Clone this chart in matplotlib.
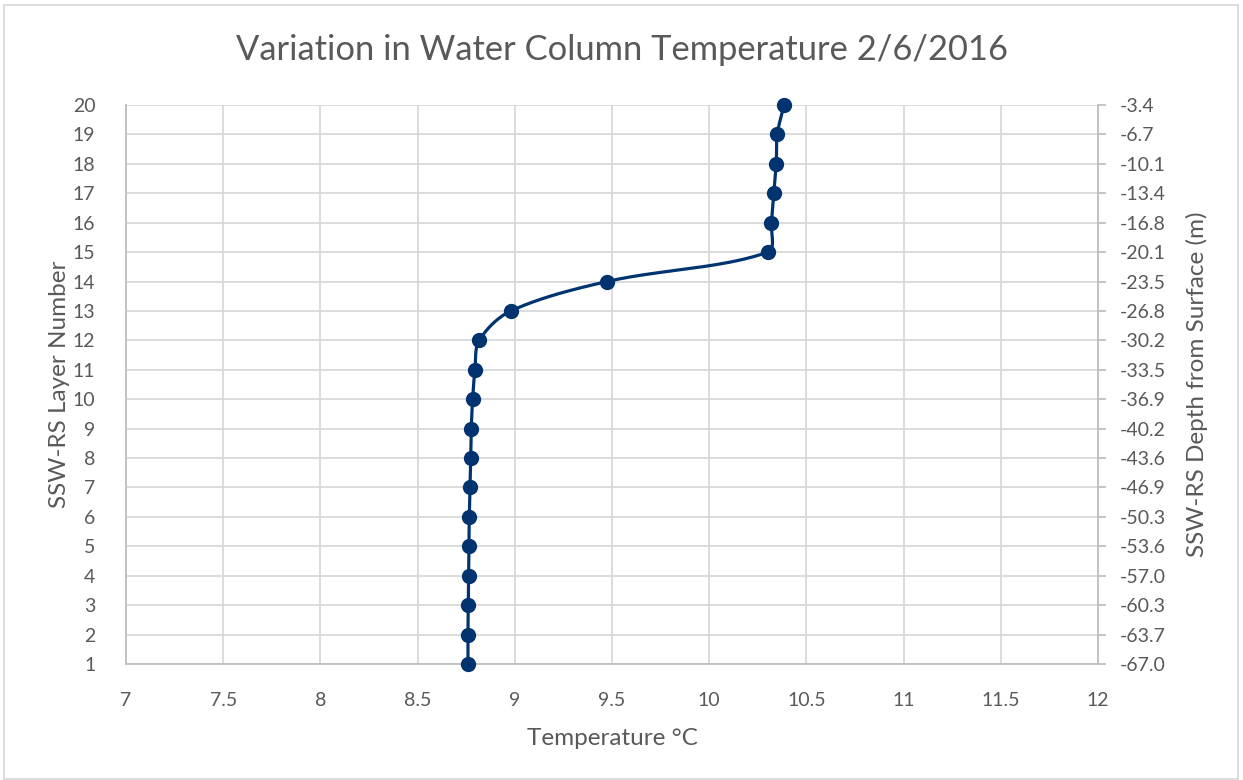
import numpy as np
import matplotlib
matplotlib.use("Agg")
import matplotlib.pyplot as plt
from matplotlib.patches import Rectangle

plt.rcParams['font.family'] = ['Lato', 'DejaVu Sans']

# Layer numbers (1 = bottom layer, 20 = surface layer)
layers = list(range(1, 21))
# Temperature in each layer, degrees C
temperature = [8.759, 8.759, 8.761, 8.763, 8.764, 8.766, 8.770, 8.773, 8.776, 8.783,
               8.795, 8.817, 8.980, 9.474, 10.302, 10.320, 10.333, 10.345, 10.350, 10.385]
# Depth of each layer from the surface, metres
depth_labels = ['-67.0', '-63.7', '-60.3', '-57.0', '-53.6', '-50.3', '-46.9', '-43.6',
                '-40.2', '-36.9', '-33.5', '-30.2', '-26.8', '-23.5', '-20.1', '-16.8',
                '-13.4', '-10.1', '-6.7', '-3.4']
x_ticks = [7, 7.5, 8, 8.5, 9, 9.5, 10, 10.5, 11, 11.5, 12]
x_tick_labels = ['7', '7.5', '8', '8.5', '9', '9.5', '10', '10.5', '11', '11.5', '12']

TEXT = '#595959'
GRID = '#D9D9D9'
AXIS = '#BFBFBF'
LINE = '#00336F'


def smooth_path(xs, ys, steps=40):
    """Cubic Bezier smoothing through every point; tangents are split in
    proportion to the neighbouring segment lengths to limit overshoot."""
    P = np.column_stack([np.asarray(xs, float), np.asarray(ys, float)])
    n = len(P)
    out = []
    t = np.linspace(0, 1, steps)[:, None]
    ctrl_out, ctrl_in = [], []
    for i in range(n):
        prev = P[i - 1] if i > 0 else P[i]
        nxt = P[i + 1] if i < n - 1 else P[i]
        d_prev = np.linalg.norm(P[i] - prev)
        d_next = np.linalg.norm(nxt - P[i])
        tot = d_prev + d_next
        T = nxt - prev
        if tot == 0:
            ctrl_out.append(P[i]); ctrl_in.append(P[i]); continue
        ctrl_out.append(P[i] + T * (1 / 3) * d_next / tot)
        ctrl_in.append(P[i] - T * (1 / 3) * d_prev / tot)
    for i in range(n - 1):
        p0, p1, p2, p3 = P[i], ctrl_out[i], ctrl_in[i + 1], P[i + 1]
        b = (1 - t) ** 3 * p0 + 3 * (1 - t) ** 2 * t * p1 + 3 * (1 - t) * t ** 2 * p2 + t ** 3 * p3
        out.append(b)
    out = np.vstack(out)
    return out[:, 0], out[:, 1]


W, H = 1243, 780
fig = plt.figure(figsize=(W / 100, H / 100), dpi=100)
fig.patch.set_facecolor('white')

left, right, top, bottom = 126, 1098, 105, 664
ax = fig.add_axes([left / W, 1 - bottom / H, (right - left) / W, (bottom - top) / H])

xlim = (7, 12)
ylim = (1, 20)
# Smooth in screen units so the curve shape is not distorted by the axis scales
wpx, hpx = right - left, bottom - top
fx = [(v - xlim[0]) / (xlim[1] - xlim[0]) * wpx for v in temperature]
fy = [(v - ylim[0]) / (ylim[1] - ylim[0]) * hpx for v in layers]
sx, sy = smooth_path(fx, fy)
sx = sx / wpx * (xlim[1] - xlim[0]) + xlim[0]
sy = sy / hpx * (ylim[1] - ylim[0]) + ylim[0]

ax.plot(sx, sy, color=LINE, lw=2.3, solid_capstyle='round', zorder=3, clip_on=False)
ax.plot(temperature, layers, 'o', color=LINE, ms=10, zorder=4, clip_on=False)

ax.set_xlim(*xlim)
ax.set_ylim(*ylim)
ax.set_xticks(x_ticks)
ax.set_xticklabels(x_tick_labels)
ax.set_yticks(layers)
ax.grid(True, color=GRID, lw=1.3)
ax.set_axisbelow(True)
for s in ['top', 'right']:
    ax.spines[s].set_visible(False)
for s in ['left', 'bottom']:
    ax.spines[s].set_color(AXIS)
    ax.spines[s].set_linewidth(1.3)
ax.tick_params(axis='both', length=0, labelcolor=TEXT, labelsize=14)
ax.tick_params(axis='x', pad=20)
ax.tick_params(axis='y', pad=22)

ax2 = ax.twinx()
ax2.set_ylim(*ylim)
ax2.set_yticks(layers)
ax2.set_yticklabels(depth_labels)
for s in ['top', 'left', 'bottom']:
    ax2.spines[s].set_visible(False)
ax2.spines['right'].set_color(AXIS)
ax2.spines['right'].set_linewidth(1.3)
ax2.tick_params(axis='y', direction='out', length=6, width=1.3, color=AXIS,
                labelcolor=TEXT, labelsize=14, pad=10)

ax.set_xlabel('Temperature °C', color=TEXT, fontsize=17.5, labelpad=14)
ax.set_ylabel('SSW-RS Layer Number', color=TEXT, fontsize=17.5, labelpad=2)
ax2.set_ylabel('SSW-RS Depth from Surface (m)', color=TEXT, fontsize=17.5, labelpad=14)

fig.text(0.5, 1 - 50 / H, 'Variation in Water Column Temperature 2/6/2016',
         ha='center', va='center', color=TEXT, fontsize=24.8)

fig.patches.append(Rectangle((4 / W, 1 / H), (1238 - 4) / W, (775 - 1) / H,
                             transform=fig.transFigure, fill=False,
                             edgecolor='#D9D9D9', lw=1.3))

fig.savefig('out.png', dpi=100, facecolor='white')
